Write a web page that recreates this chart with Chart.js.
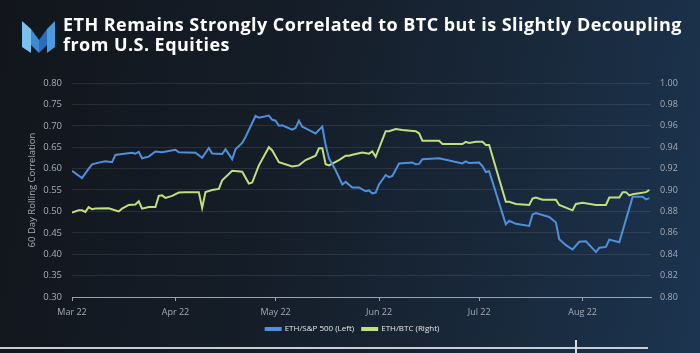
<!DOCTYPE html>
<html>
<head>
<meta charset="utf-8">
<script src="https://cdn.jsdelivr.net/npm/chart.js@4/dist/chart.umd.min.js"></script>
<style>
  html, body { margin: 0; padding: 0; }
  body {
    width: 700px; height: 353px; overflow: hidden; position: relative;
    background: linear-gradient(100deg, #12161c 0%, #151d28 40%, #192a3d 75%, #1c3450 100%);
    font-family: 'Open Sans', sans-serif;
  }
  #logo { position: absolute; left: 20px; top: 19px; }
  #title {
    position: absolute; left: 63px; top: 14px; z-index: 2;
    color: #ffffff; font-weight: 700; font-size: 18px; line-height: 20px; letter-spacing: 0.45px;
  }
  #wrap { position: absolute; left: 0; top: 0; width: 700px; height: 353px; }
  #scrub { position: absolute; left: 0; top: 347px; width: 648px; height: 2px; background: #c9cdd2; }
  #scrubMark { position: absolute; left: 575px; top: 340px; width: 2px; height: 13px; background: #d9dce0; }
</style>
</head>
<body>
<svg id="logo" width="36" height="36" viewBox="20 19 36 36">
  <polygon points="22,21 31,29 31,53 22,47" fill="#7cc0f0"/>
  <polygon points="31,29 39,40 39,53 31,45" fill="#3f8ad6"/>
  <polygon points="39,40 47,29 47,45 39,53" fill="#2c6cbc"/>
  <polygon points="47,29 55,21 55,47 47,53" fill="#4a9be0"/>
</svg>
<div id="title">ETH Remains Strongly Correlated to BTC but is Slightly Decoupling<br>from U.S. Equities</div>
<div id="wrap"><canvas id="corrChart"></canvas></div>
<div id="scrub"></div>
<div id="scrubMark"></div>
<script>
// Month ticks on the time axis
const monthTicks = ['03-01', '04-01', '05-01', '06-01', '07-01', '08-01'];
const monthLabels = ['Mar 22', 'Apr 22', 'May 22', 'Jun 22', 'Jul 22', 'Aug 22'];

// ETH / S&P 500, 60 day rolling correlation (left axis)
const spxDates = ['03-01','03-04','03-06','03-07','03-09','03-11','03-13','03-14','03-16','03-19',
  '03-20','03-21','03-22','03-24','03-26','03-28','04-01','04-02','04-07','04-09',
  '04-11','04-12','04-15','04-16','04-18','04-19','04-21','04-22','04-25','04-26',
  '04-29','04-30','05-01','05-02','05-03','05-06','05-07','05-08','05-09','05-10',
  '05-13','05-15','05-16','05-17','05-19','05-21','05-22','05-24','05-26','05-28',
  '05-29','05-30','05-31','06-01','06-03','06-04','06-05','06-07','06-11','06-12',
  '06-13','06-14','06-19','06-26','06-27','06-28','07-01','07-02','07-03','07-04',
  '07-09','07-10','07-12','07-16','07-17','07-18','07-22','07-24','07-25','07-27',
  '07-29','07-31','08-02','08-05','08-06','08-08','08-09','08-12','08-16','08-19',
  '08-20','08-21'];
const spxCorr = [0.595,0.578,0.600,0.610,0.614,0.617,0.615,0.632,0.634,0.637,
  0.635,0.639,0.624,0.628,0.640,0.638,0.644,0.638,0.637,0.625,
  0.648,0.635,0.634,0.645,0.622,0.645,0.660,0.674,0.723,0.719,
  0.724,0.714,0.712,0.700,0.701,0.691,0.695,0.712,0.698,0.694,
  0.682,0.698,0.655,0.624,0.596,0.563,0.569,0.556,0.556,0.547,
  0.549,0.542,0.544,0.563,0.585,0.580,0.583,0.612,0.614,0.610,
  0.611,0.622,0.624,0.612,0.617,0.613,0.614,0.606,0.592,0.594,
  0.470,0.478,0.471,0.466,0.493,0.496,0.487,0.474,0.435,0.421,
  0.411,0.429,0.430,0.405,0.415,0.417,0.434,0.428,0.534,0.534,
  0.528,0.531];

// ETH / BTC, 60 day rolling correlation (right axis)
const btcDates = ['03-01','03-03','03-04','03-05','03-06','03-07','03-08','03-12','03-15','03-16',
  '03-18','03-20','03-21','03-22','03-24','03-26','03-27','03-28','03-29','03-31',
  '04-02','04-04','04-08','04-09','04-10','04-12','04-14','04-15','04-18','04-21',
  '04-23','04-24','04-26','04-29','04-30','05-02','05-06','05-08','05-10','05-13',
  '05-14','05-15','05-16','05-17','05-20','05-22','05-23','05-24','05-27','05-29',
  '05-30','05-31','06-03','06-04','06-06','06-08','06-12','06-13','06-14','06-19',
  '06-20','06-26','06-27','06-28','06-30','07-02','07-03','07-04','07-09','07-10',
  '07-12','07-16','07-17','07-18','07-20','07-24','07-25','07-29','07-30','08-01',
  '08-05','08-08','08-09','08-12','08-13','08-14','08-15','08-16','08-20','08-21'];
const btcCorr = [0.879,0.881,0.881,0.8795,0.884,0.882,0.8826,0.883,0.880,0.8826,
  0.886,0.8864,0.8895,0.8826,0.884,0.884,0.8945,0.895,0.8926,0.8945,
  0.8976,0.898,0.898,0.8833,0.898,0.900,0.901,0.909,0.918,0.917,
  0.906,0.907,0.923,0.940,0.937,0.926,0.922,0.923,0.928,0.932,
  0.939,0.939,0.924,0.923,0.928,0.932,0.932,0.933,0.935,0.934,
  0.936,0.931,0.955,0.955,0.957,0.956,0.955,0.953,0.946,0.946,
  0.943,0.943,0.945,0.944,0.945,0.945,0.942,0.942,0.889,0.889,
  0.887,0.886,0.892,0.893,0.891,0.891,0.886,0.881,0.887,0.888,
  0.886,0.886,0.893,0.893,0.898,0.898,0.895,0.896,0.898,0.900];

const seriesLabels = ['ETH/S&P 500 (Left)', 'ETH/BTC (Right)'];
const seriesColors = ['#4f90dc', '#c0e07f'];

// days since 1 Mar 2022
function dayIndex(md) {
  const [m, d] = md.split('-').map(Number);
  return (Date.UTC(2022, m - 1, d) - Date.UTC(2022, 2, 1)) / 864e5;
}
const toPoints = (dates, vals) => dates.map((d, i) => ({ x: dayIndex(d), y: vals[i] }));
const tickDays = monthTicks.map(dayIndex);

const textColor = '#a4acb6';
const gridColor = 'rgba(255,255,255,0.09)';

Chart.defaults.font.family = "'Open Sans', sans-serif";

new Chart(document.getElementById('corrChart'), {
  type: 'line',
  data: {
    datasets: [{
      label: seriesLabels[0],
      data: toPoints(spxDates, spxCorr),
      borderColor: seriesColors[0],
      backgroundColor: seriesColors[0],
      borderWidth: 2,
      pointRadius: 0,
      tension: 0,
      yAxisID: 'y'
    }, {
      label: seriesLabels[1],
      data: toPoints(btcDates, btcCorr),
      borderColor: seriesColors[1],
      backgroundColor: seriesColors[1],
      borderWidth: 2,
      pointRadius: 0,
      tension: 0,
      yAxisID: 'y1'
    }]
  },
  options: {
    responsive: true,
    maintainAspectRatio: false,
    animation: false,
    layout: { padding: { top: 83, left: 20, right: 15, bottom: 10 } },
    plugins: {
      tooltip: { enabled: false },
      legend: {
        position: 'bottom',
        labels: {
          color: '#e4e8ed',
          boxWidth: 15,
          boxHeight: 2,
          padding: 8,
          font: { size: 8 }
        }
      }
    },
    scales: {
      x: {
        type: 'linear',
        min: 0,
        max: dayIndex('08-21') + 0.5,
        afterBuildTicks: axis => { axis.ticks = tickDays.map(v => ({ value: v })); },
        afterFit: axis => { axis.height = 20; },
        grid: { drawOnChartArea: false, color: '#9aa4ae', tickLength: 4 },
        border: { color: '#9aa4ae' },
        ticks: {
          color: textColor,
          font: { size: 9 },
          padding: 6,
          maxRotation: 0,
          callback: v => monthLabels[tickDays.indexOf(v)]
        }
      },
      y: {
        position: 'left',
        min: 0.30,
        max: 0.80,
        afterFit: axis => { axis.width = 52; },
        grid: { color: gridColor, drawTicks: false },
        border: { display: false },
        ticks: { stepSize: 0.05, color: textColor, font: { size: 9.5 }, padding: 10, callback: v => v.toFixed(2) },
        title: { display: true, text: '60 Day Rolling Correlation', color: textColor, font: { size: 9.5 }, padding: { top: 7, bottom: 0 } }
      },
      y1: {
        position: 'right',
        min: 0.80,
        max: 1.00,
        afterFit: axis => { axis.width = 34; },
        grid: { drawOnChartArea: false, drawTicks: false },
        border: { display: false },
        ticks: { stepSize: 0.02, color: textColor, font: { size: 9 }, padding: 9, callback: v => v.toFixed(2) }
      }
    }
  }
});
</script>
</body>
</html>
